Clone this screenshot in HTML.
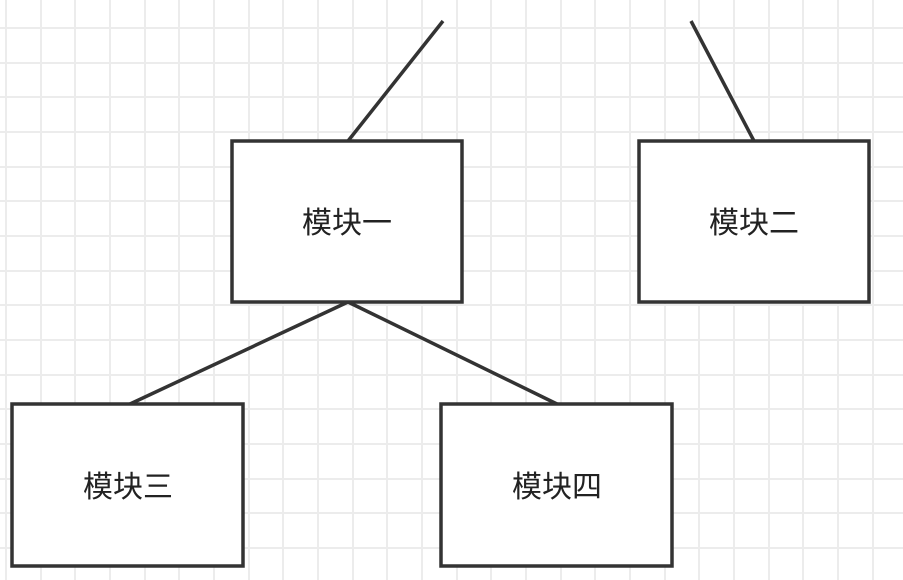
<!DOCTYPE html>
<html><head><meta charset="utf-8"><style>
html,body{margin:0;padding:0;background:#fff;}
svg{display:block;}
text{font-family:"Liberation Sans","Noto Sans CJK SC",sans-serif;font-size:30px;fill:#222;}
</style></head><body>
<svg width="903" height="580" xmlns="http://www.w3.org/2000/svg">
<g stroke="#ebebeb" stroke-width="2">
<script></script>
</g>
<g id="grid" stroke="#ececec" stroke-width="2"></g>
<g stroke="#ececec" stroke-width="2">
<line x1="6" y1="0" x2="6" y2="580"/><line x1="41" y1="0" x2="41" y2="580"/><line x1="75" y1="0" x2="75" y2="580"/><line x1="110" y1="0" x2="110" y2="580"/><line x1="145" y1="0" x2="145" y2="580"/><line x1="179" y1="0" x2="179" y2="580"/><line x1="214" y1="0" x2="214" y2="580"/><line x1="249" y1="0" x2="249" y2="580"/><line x1="283" y1="0" x2="283" y2="580"/><line x1="318" y1="0" x2="318" y2="580"/><line x1="353" y1="0" x2="353" y2="580"/><line x1="387" y1="0" x2="387" y2="580"/><line x1="422" y1="0" x2="422" y2="580"/><line x1="457" y1="0" x2="457" y2="580"/><line x1="491" y1="0" x2="491" y2="580"/><line x1="526" y1="0" x2="526" y2="580"/><line x1="561" y1="0" x2="561" y2="580"/><line x1="595" y1="0" x2="595" y2="580"/><line x1="630" y1="0" x2="630" y2="580"/><line x1="665" y1="0" x2="665" y2="580"/><line x1="699" y1="0" x2="699" y2="580"/><line x1="734" y1="0" x2="734" y2="580"/><line x1="769" y1="0" x2="769" y2="580"/><line x1="803" y1="0" x2="803" y2="580"/><line x1="838" y1="0" x2="838" y2="580"/><line x1="873" y1="0" x2="873" y2="580"/>
<line x1="0" y1="28" x2="903" y2="28"/><line x1="0" y1="63" x2="903" y2="63"/><line x1="0" y1="97" x2="903" y2="97"/><line x1="0" y1="132" x2="903" y2="132"/><line x1="0" y1="167" x2="903" y2="167"/><line x1="0" y1="201" x2="903" y2="201"/><line x1="0" y1="236" x2="903" y2="236"/><line x1="0" y1="271" x2="903" y2="271"/><line x1="0" y1="305" x2="903" y2="305"/><line x1="0" y1="340" x2="903" y2="340"/><line x1="0" y1="375" x2="903" y2="375"/><line x1="0" y1="409" x2="903" y2="409"/><line x1="0" y1="444" x2="903" y2="444"/><line x1="0" y1="479" x2="903" y2="479"/><line x1="0" y1="513" x2="903" y2="513"/><line x1="0" y1="548" x2="903" y2="548"/>
</g>
<g stroke="#333" stroke-width="3.5" fill="none">
<line x1="348" y1="141" x2="443" y2="21"/>
<line x1="754" y1="141" x2="691" y2="21"/>
<line x1="348" y1="302" x2="130" y2="404"/>
<line x1="348" y1="302" x2="557" y2="404"/>
</g>
<g stroke="#333" stroke-width="3.5" fill="#fff">
<rect x="232" y="141" width="230" height="161"/>
<rect x="639" y="141" width="230" height="161"/>
<rect x="12" y="404" width="231" height="162"/>
<rect x="441" y="404" width="231" height="162"/>
</g>
<text x="347" y="233" text-anchor="middle">模块一</text>
<text x="754" y="233" text-anchor="middle">模块二</text>
<text x="128" y="497" text-anchor="middle">模块三</text>
<text x="557" y="497" text-anchor="middle">模块四</text>
</svg>
</body></html>
